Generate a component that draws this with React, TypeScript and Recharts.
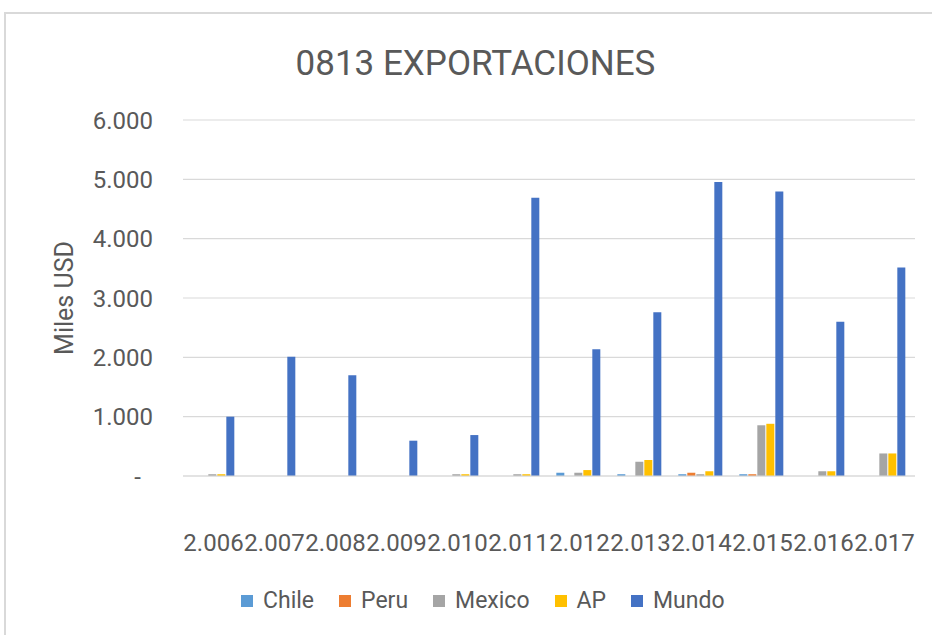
import { BarChart, Bar, XAxis, YAxis, CartesianGrid, Legend } from "recharts"

const years = ["2.006", "2.007", "2.008", "2.009", "2.010", "2.011", "2.012", "2.013", "2.014", "2.015", "2.016", "2.017"]
const chile = [0, 0, 0, 0, 0, 0, 55, 30, 30, 30, 0, 0]
const peru = [0, 0, 0, 0, 0, 0, 0, 0, 55, 30, 0, 0]
const mexico = [30, 0, 0, 0, 30, 30, 55, 240, 30, 855, 80, 380]
const ap = [30, 0, 0, 0, 30, 30, 100, 270, 80, 880, 80, 380]
const mundo = [1000, 2010, 1700, 595, 690, 4690, 2135, 2760, 4955, 4795, 2600, 3515]
const yTicks = [0, 1000, 2000, 3000, 4000, 5000, 6000]

const series = [
  { key: "Chile", values: chile, color: "#5b9bd5" },
  { key: "Peru", values: peru, color: "#ed7d31" },
  { key: "Mexico", values: mexico, color: "#a5a5a5" },
  { key: "AP", values: ap, color: "#ffc000" },
  { key: "Mundo", values: mundo, color: "#4472c4" },
]

const data = years.map((year, i) => {
  const row: Record<string, string | number> = { year }
  series.forEach((s) => {
    row[s.key] = s.values[i]
  })
  return row
})

const FONT = "Roboto, 'Liberation Sans', sans-serif"
const TEXT = "#595959"
const GRID = "#d9d9d9"

const formatThousands = (value: number) => {
  if (value === 0) return "-"
  return value.toLocaleString("de-DE")
}

const YTick = (props: any) => {
  const { x, y, payload } = props
  const isZero = payload.value === 0
  return (
    <text
      x={isZero ? x - 12 : x}
      y={y}
      dy="0.355em"
      textAnchor="end"
      fill={TEXT}
      fontSize={24}
      fontFamily={FONT}
    >
      {formatThousands(payload.value)}
    </text>
  )
}

// keep the series order of the workbook, not the alphabetical one
const LegendContent = () => (
  <div style={{ display: "flex", alignItems: "center", fontFamily: FONT, fontSize: 23, color: TEXT, lineHeight: "24px" }}>
    {series.map((s) => (
      <div key={s.key} style={{ display: "flex", alignItems: "center", marginRight: 25 }}>
        <span style={{ display: "inline-block", width: 12, height: 12, background: s.color, marginRight: 10 }} />
        <span>{s.key}</span>
      </div>
    ))}
  </div>
)

const App = () => {
  return (
    <div
      style={{
        position: "fixed",
        left: 0,
        top: 0,
        width: 932,
        height: 635,
        overflow: "hidden",
        background: "#ffffff",
      }}
    >
      <div
        style={{
          position: "absolute",
          left: 4,
          top: 12,
          width: 1000,
          height: 700,
          borderLeft: `2px solid ${GRID}`,
          borderTop: `2px solid ${GRID}`,
        }}
      />
      <div
        style={{
          position: "absolute",
          left: 0,
          top: 46,
          width: 951,
          textAlign: "center",
          fontFamily: FONT,
          fontSize: 35,
          lineHeight: "35px",
          color: TEXT,
        }}
      >
        0813 EXPORTACIONES
      </div>
      <div style={{ position: "absolute", left: 0, top: 0 }}>
        <BarChart
          width={932}
          height={635}
          data={data}
          margin={{ top: 120, right: 17, bottom: 99, left: 0 }}
          barCategoryGap="12%"
          barGap={1}
        >
          <CartesianGrid vertical={false} stroke={GRID} strokeWidth={1.2} />
          <XAxis
            dataKey="year"
            height={60}
            interval={0}
            tickLine={false}
            tickSize={0}
            tickMargin={58}
            axisLine={{ stroke: GRID, strokeWidth: 1.2 }}
            tick={{ fill: TEXT, fontSize: 24, fontFamily: FONT }}
          />
          <YAxis
            width={183}
            domain={[0, 6000]}
            ticks={yTicks}
            interval={0}
            axisLine={false}
            tickLine={false}
            tickSize={0}
            tickMargin={30}
            tick={<YTick />}
            label={{
              content: () => (
                <text
                  x={73}
                  y={298}
                  transform="rotate(-90 73 298)"
                  textAnchor="middle"
                  fill={TEXT}
                  fontSize={25}
                  fontFamily={FONT}
                >
                  Miles USD
                </text>
              ),
            }}
          />
          <Legend
            verticalAlign="middle"
            align="center"
            layout="horizontal"
            wrapperStyle={{ top: 589, left: 241, width: 600 }}
            content={<LegendContent />}
          />
          {series.map((s) => (
            <Bar key={s.key} dataKey={s.key} fill={s.color} isAnimationActive={false} />
          ))}
        </BarChart>
      </div>
    </div>
  )
}

export default App
